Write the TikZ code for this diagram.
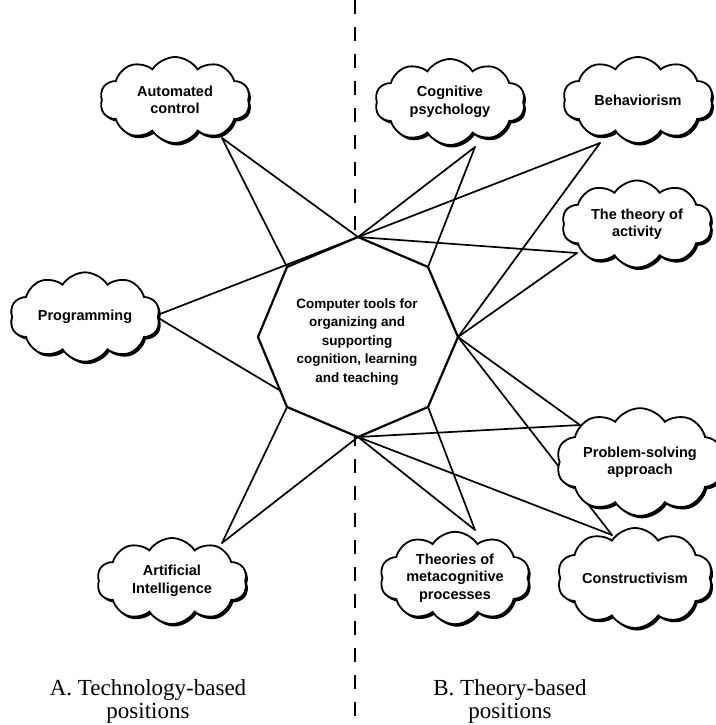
\documentclass[tikz,border=0pt]{standalone}
\usepackage{fontspec}
\setmainfont{Liberation Serif}
\setsansfont{Liberation Sans}
\usetikzlibrary{shapes.symbols,shadows}
\begin{document}
\begin{tikzpicture}[x=1pt,y=-1pt,
  cloudbox/.style={cloud, cloud puffs=10, cloud puff arc=115, aspect=1.9,
    draw=black, line width=1.8pt, fill=white, minimum width=150pt,
    minimum height=86pt, inner sep=0pt, align=center,
    font=\sffamily\bfseries\fontsize{14.5}{17.5}\selectfont,
    drop shadow={shadow xshift=2pt, shadow yshift=-2.5pt, fill=black, opacity=1}},
  link/.style={line width=1.7pt, line cap=round},
  octline/.style={line width=2.2pt, line join=round, fill=white},
  divider/.style={line width=2.2pt, dash pattern=on 14pt off 13pt},
  caption/.style={font=\fontsize{23}{23}\selectfont, align=center},
  midtext/.style={font=\sffamily\bfseries\fontsize{13.5}{18.5}\selectfont, align=center}
]
\useasboundingbox (0,0) rectangle (715,725);

% dashed divider
\coordinate (dtop) at (355,0);
\coordinate (dbot) at (355,725);
\draw[divider] (dtop) -- (dbot);

% octagon vertices
\coordinate (vT)  at (358,237);
\coordinate (vUR) at (428,267);
\coordinate (vR)  at (458,337);
\coordinate (vLR) at (428,407);
\coordinate (vB)  at (358,437);
\coordinate (vLL) at (287,407);
\coordinate (vL)  at (258,337);
\coordinate (vUL) at (287,267);

% attach points of clouds
\coordinate (pAC) at (222,138);
\coordinate (pPR) at (155,316);
\coordinate (pAI) at (222,543);
\coordinate (pCP) at (475,147);
\coordinate (pBE) at (600,143);
\coordinate (pTA) at (577,253);
\coordinate (pPS) at (580,425);
\coordinate (pCO) at (612,535);
\coordinate (pME) at (475,530);

% connectors
\draw[link] (pAC) -- (vT);
\draw[link] (pAC) -- (vUL);
\draw[link] (pPR) -- (vT);
\draw[link] (pPR) -- (vB);
\draw[link] (pAI) -- (vLL);
\draw[link] (pAI) -- (vB);
\draw[link] (pCP) -- (vT);
\draw[link] (pCP) -- (vUR);
\draw[link] (pBE) -- (vT);
\draw[link] (pBE) -- (vR);
\draw[link] (pTA) -- (vT);
\draw[link] (pTA) -- (vR);
\draw[link] (pPS) -- (vB);
\draw[link] (pPS) -- (vR);
\draw[link] (pCO) -- (vB);
\draw[link] (pCO) -- (vR);
\draw[link] (pME) -- (vB);
\draw[link] (pME) -- (vLR);

% octagon
\draw[octline] (vT) -- (vUR) -- (vR) -- (vLR) -- (vB) -- (vLL) -- (vL) -- (vUL) -- cycle;
\node[midtext] (center) at (357,342) {Computer tools for\\organizing and\\supporting\\cognition, learning\\and teaching};

% clouds
\node[cloudbox] (auto) at (175,100) {Automated\\control};
\node[cloudbox, minimum height=74pt] (prog) at (85,317) {Programming};
\node[cloudbox] (ai) at (172,581) {Artificial\\Intelligence};
\node[cloudbox] (cog) at (450,102) {Cognitive\\psychology};
\node[cloudbox] (beh) at (638,100) {Behaviorism};
\node[cloudbox, minimum height=80pt] (act) at (637,224) {The theory of\\activity};
\node[cloudbox] (prob) at (640,462) {Problem-solving\\approach};
\node[cloudbox] (cons) at (635,578) {Constructivism};
\node[cloudbox] (meta) at (455,578) {Theories of\\metacognitive\\processes};

% captions
\node[caption] (capA) at (148,701) {A. Technology-based\\positions};
\node[caption] (capB) at (510,701) {B. Theory-based\\positions};
\end{tikzpicture}
\end{document}
